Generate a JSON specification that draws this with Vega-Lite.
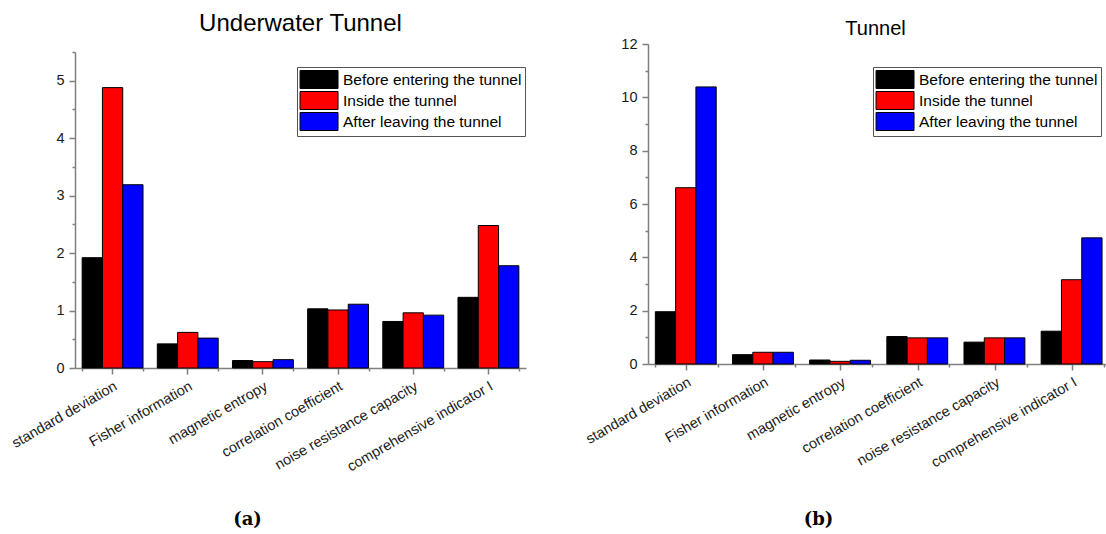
{
  "$schema": "https://vega.github.io/schema/vega-lite/v6.json",
  "background": "white",
  "padding": {"left": 8, "top": 12, "right": 0, "bottom": 0},
  "bounds": "flush",
  "spacing": 122,
  "config": {
    "font": "Liberation Sans",
    "view": {"stroke": null},
    "axis": {
      "grid": false,
      "domainColor": "#7f7f7f",
      "domainWidth": 1.5,
      "tickColor": "#7f7f7f",
      "tickWidth": 1.5,
      "labelFont": "Liberation Sans",
      "labelFontSize": 14.5,
      "labelColor": "#1a1a1a"
    },
    "title": {"font": "Liberation Sans", "fontWeight": "normal", "color": "#000000", "anchor": "middle"},
    "legend": {
      "orient": "none",
      "title": null,
      "strokeColor": "#555555",
      "padding": 3,
      "rowPadding": -2,
      "labelFont": "Liberation Sans",
      "labelFontSize": 15.5,
      "labelColor": "#000000",
      "labelOffset": 24,
      "labelLimit": 400,
      "symbolType": "M-1.05,-1H3.17V1H-1.05Z",
      "symbolSize": 324,
      "symbolStrokeColor": "#000000",
      "symbolStrokeWidth": 1,
      "symbolOpacity": 1,
      "fillColor": "white"
    }
  },
  "datasets": {
    "d": [
      {"panel": "a", "metric": "standard deviation", "condition": "Before entering the tunnel", "value": 1.92},
      {"panel": "a", "metric": "standard deviation", "condition": "Inside the tunnel", "value": 4.88},
      {"panel": "a", "metric": "standard deviation", "condition": "After leaving the tunnel", "value": 3.19},
      {"panel": "a", "metric": "Fisher information", "condition": "Before entering the tunnel", "value": 0.42},
      {"panel": "a", "metric": "Fisher information", "condition": "Inside the tunnel", "value": 0.62},
      {"panel": "a", "metric": "Fisher information", "condition": "After leaving the tunnel", "value": 0.52},
      {"panel": "a", "metric": "magnetic entropy", "condition": "Before entering the tunnel", "value": 0.13},
      {"panel": "a", "metric": "magnetic entropy", "condition": "Inside the tunnel", "value": 0.11},
      {"panel": "a", "metric": "magnetic entropy", "condition": "After leaving the tunnel", "value": 0.145},
      {"panel": "a", "metric": "correlation coefficient", "condition": "Before entering the tunnel", "value": 1.03},
      {"panel": "a", "metric": "correlation coefficient", "condition": "Inside the tunnel", "value": 1.01},
      {"panel": "a", "metric": "correlation coefficient", "condition": "After leaving the tunnel", "value": 1.11},
      {"panel": "a", "metric": "noise resistance capacity", "condition": "Before entering the tunnel", "value": 0.81},
      {"panel": "a", "metric": "noise resistance capacity", "condition": "Inside the tunnel", "value": 0.96},
      {"panel": "a", "metric": "noise resistance capacity", "condition": "After leaving the tunnel", "value": 0.92},
      {"panel": "a", "metric": "comprehensive indicator I", "condition": "Before entering the tunnel", "value": 1.23},
      {"panel": "a", "metric": "comprehensive indicator I", "condition": "Inside the tunnel", "value": 2.48},
      {"panel": "a", "metric": "comprehensive indicator I", "condition": "After leaving the tunnel", "value": 1.78},
      {"panel": "b", "metric": "standard deviation", "condition": "Before entering the tunnel", "value": 1.96},
      {"panel": "b", "metric": "standard deviation", "condition": "Inside the tunnel", "value": 6.61},
      {"panel": "b", "metric": "standard deviation", "condition": "After leaving the tunnel", "value": 10.39},
      {"panel": "b", "metric": "Fisher information", "condition": "Before entering the tunnel", "value": 0.35},
      {"panel": "b", "metric": "Fisher information", "condition": "Inside the tunnel", "value": 0.44},
      {"panel": "b", "metric": "Fisher information", "condition": "After leaving the tunnel", "value": 0.44},
      {"panel": "b", "metric": "magnetic entropy", "condition": "Before entering the tunnel", "value": 0.15},
      {"panel": "b", "metric": "magnetic entropy", "condition": "Inside the tunnel", "value": 0.1},
      {"panel": "b", "metric": "magnetic entropy", "condition": "After leaving the tunnel", "value": 0.14},
      {"panel": "b", "metric": "correlation coefficient", "condition": "Before entering the tunnel", "value": 1.03},
      {"panel": "b", "metric": "correlation coefficient", "condition": "Inside the tunnel", "value": 0.98},
      {"panel": "b", "metric": "correlation coefficient", "condition": "After leaving the tunnel", "value": 0.98},
      {"panel": "b", "metric": "noise resistance capacity", "condition": "Before entering the tunnel", "value": 0.82},
      {"panel": "b", "metric": "noise resistance capacity", "condition": "Inside the tunnel", "value": 0.98},
      {"panel": "b", "metric": "noise resistance capacity", "condition": "After leaving the tunnel", "value": 0.98},
      {"panel": "b", "metric": "comprehensive indicator I", "condition": "Before entering the tunnel", "value": 1.23},
      {"panel": "b", "metric": "comprehensive indicator I", "condition": "Inside the tunnel", "value": 3.16},
      {"panel": "b", "metric": "comprehensive indicator I", "condition": "After leaving the tunnel", "value": 4.73}
    ]
  },
  "data": {"name": "d"},
  "resolve": {"legend": {"color": "independent"}},
  "hconcat": [
    {
      "width": 451,
      "height": 324,
      "title": {"text": "Underwater Tunnel", "fontSize": 24, "baseline": "alphabetic", "offset": -11},
      "transform": [{"filter": "datum.panel === 'a'"}],
      "layer": [
        {
          "mark": {"type": "bar", "stroke": "#000000", "strokeWidth": 1},
          "encoding": {
            "x": {
              "field": "metric", "type": "nominal",
              "sort": ["standard deviation", "Fisher information", "magnetic entropy", "correlation coefficient", "noise resistance capacity", "comprehensive indicator I"],
              "scale": {"paddingInner": 0.19, "paddingOuter": 0.095},
              "axis": {
                "orient": "bottom", "labelAngle": -30, "labelAlign": "right", "labelBaseline": "top",
                "labelPadding": 5, "tickSize": 6, "labelLimit": 400, "labelOverlap": false, "labelFlush": false,
                "title": "(a)", "titleFont": "DejaVu Serif", "titleFontWeight": "bold", "titleFontSize": 18,
                "titleColor": "#000000", "titleX": 172, "titleY": 156, "titleAlign": "center", "titleBaseline": "alphabetic"
              }
            },
            "xOffset": {"field": "condition", "type": "nominal", "sort": ["Before entering the tunnel", "Inside the tunnel", "After leaving the tunnel"], "scale": {"paddingInner": 0, "paddingOuter": 0}},
            "y": {
              "field": "value", "type": "quantitative",
              "scale": {"domain": [0, 5.5], "range": [324, 8], "nice": false, "zero": true},
              "axis": {"orient": "left", "values": [0, 1, 2, 3, 4, 5], "tickSize": 6, "labelPadding": 5, "title": null}
            },
            "color": {
              "field": "condition", "type": "nominal",
              "sort": ["Before entering the tunnel", "Inside the tunnel", "After leaving the tunnel"],
              "scale": {"domain": ["Before entering the tunnel", "Inside the tunnel", "After leaving the tunnel"], "range": ["#000000", "#ff0000", "#0000ff"]},
              "legend": {"legendX": 222, "legendY": 23}
            }
          }
        },
        {
          "mark": {"type": "bar", "opacity": 0, "clip": true},
          "encoding": {
            "x": {
              "field": "metric", "type": "nominal",
              "sort": ["standard deviation", "Fisher information", "magnetic entropy", "correlation coefficient", "noise resistance capacity", "comprehensive indicator I"],
              "axis": {"orient": "bottom", "tickBand": "extent", "labels": false, "domain": false, "tickSize": 3, "title": null}
            },
            "y": {
              "field": "value", "type": "quantitative", "stack": null,
              "axis": {"orient": "left", "values": [0.5, 1.5, 2.5, 3.5, 4.5, 5.5], "labels": false, "domain": false, "tickSize": 3, "title": null}
            }
          }
        }
      ],
      "resolve": {"axis": {"x": "independent", "y": "independent"}}
    },
    {
      "width": 463,
      "height": 320,
      "title": {"text": "Tunnel", "fontSize": 20, "baseline": "alphabetic", "offset": -19, "dx": -4},
      "transform": [{"filter": "datum.panel === 'b'"}],
      "layer": [
        {
          "mark": {"type": "bar", "stroke": "#000000", "strokeWidth": 1},
          "encoding": {
            "x": {
              "field": "metric", "type": "nominal",
              "sort": ["standard deviation", "Fisher information", "magnetic entropy", "correlation coefficient", "noise resistance capacity", "comprehensive indicator I"],
              "scale": {"paddingInner": 0.19, "paddingOuter": 0.095},
              "axis": {
                "orient": "bottom", "labelAngle": -30, "labelAlign": "right", "labelBaseline": "top",
                "labelPadding": 5, "tickSize": 6, "labelLimit": 400, "labelOverlap": false, "labelFlush": false,
                "title": "(b)", "titleFont": "DejaVu Serif", "titleFontWeight": "bold", "titleFontSize": 18,
                "titleColor": "#000000", "titleX": 170, "titleY": 160, "titleAlign": "center", "titleBaseline": "alphabetic"
              }
            },
            "xOffset": {"field": "condition", "type": "nominal", "sort": ["Before entering the tunnel", "Inside the tunnel", "After leaving the tunnel"], "scale": {"paddingInner": 0, "paddingOuter": 0}},
            "y": {
              "field": "value", "type": "quantitative",
              "scale": {"domain": [0, 12], "nice": false, "zero": true},
              "axis": {"orient": "left", "values": [0, 2, 4, 6, 8, 10, 12], "tickSize": 6, "labelPadding": 5, "title": null}
            },
            "color": {
              "field": "condition", "type": "nominal",
              "sort": ["Before entering the tunnel", "Inside the tunnel", "After leaving the tunnel"],
              "scale": {"domain": ["Before entering the tunnel", "Inside the tunnel", "After leaving the tunnel"], "range": ["#000000", "#ff0000", "#0000ff"]},
              "legend": {"legendX": 225, "legendY": 23}
            }
          }
        },
        {
          "mark": {"type": "bar", "opacity": 0, "clip": true},
          "encoding": {
            "x": {
              "field": "metric", "type": "nominal",
              "sort": ["standard deviation", "Fisher information", "magnetic entropy", "correlation coefficient", "noise resistance capacity", "comprehensive indicator I"],
              "axis": {"orient": "bottom", "tickBand": "extent", "labels": false, "domain": false, "tickSize": 3, "title": null}
            },
            "y": {
              "field": "value", "type": "quantitative", "stack": null,
              "axis": {"orient": "left", "values": [1, 3, 5, 7, 9, 11], "labels": false, "domain": false, "tickSize": 3, "title": null}
            }
          }
        }
      ],
      "resolve": {"axis": {"x": "independent", "y": "independent"}}
    }
  ]
}
